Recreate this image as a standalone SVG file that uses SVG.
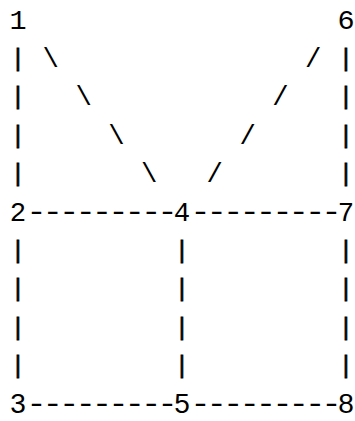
<svg xmlns="http://www.w3.org/2000/svg" width="355" height="421" viewBox="0 0 355 421">
<style>
  text { font-family: "Liberation Mono", "DejaVu Sans Mono", monospace; font-size: 27.33px; fill: #000; text-anchor: middle; }
  text.n { font-size: 28.5px; }
  text.sans { font-family: "Liberation Sans", Arial, sans-serif; font-size: 28px; }
  text.bar { font-size: 23px; stroke: #000; stroke-width: 0.8px; }
  text.dash { letter-spacing: -3.28px; text-anchor: start; }
</style>
<rect width="355" height="421" fill="#fff"/>
<g id="connectors">
  <!-- rows 1-4 -->
  <text class="bar" x="18" y="65.9">|</text><text x="50.8" y="66.8">\</text><text x="313.2" y="66.8">/</text><text class="bar" x="346" y="65.9">|</text>
  <text class="bar" x="18" y="104.3">|</text><text x="83.6" y="105.2">\</text><text x="280.4" y="105.2">/</text><text class="bar" x="346" y="104.3">|</text>
  <text class="bar" x="18" y="142.7">|</text><text x="116.4" y="143.6">\</text><text x="247.6" y="143.6">/</text><text class="bar" x="346" y="142.7">|</text>
  <text class="bar" x="18" y="181.1">|</text><text x="149.2" y="182">\</text><text x="214.8" y="182">/</text><text class="bar" x="346" y="181.1">|</text>
  <!-- row 5 -->
  <text class="dash" transform="translate(26.2,219.5) scale(1.25,1)">---------</text>
  <text class="dash" transform="translate(190.2,219.5) scale(1.25,1)">---------</text>
  <!-- rows 6-9 -->
  <text class="bar" x="18" y="257.9">|</text><text class="bar" x="182" y="257.9">|</text><text class="bar" x="346" y="257.9">|</text>
  <text class="bar" x="18" y="296.3">|</text><text class="bar" x="182" y="296.3">|</text><text class="bar" x="346" y="296.3">|</text>
  <text class="bar" x="18" y="334.7">|</text><text class="bar" x="182" y="334.7">|</text><text class="bar" x="346" y="334.7">|</text>
  <text class="bar" x="18" y="373.1">|</text><text class="bar" x="182" y="373.1">|</text><text class="bar" x="346" y="373.1">|</text>
  <!-- row 10 -->
  <text class="dash" transform="translate(26.2,411.5) scale(1.25,1)">---------</text>
  <text class="dash" transform="translate(190.2,411.5) scale(1.25,1)">---------</text>
</g>
<g id="node1"><text class="n" x="18" y="28.5">1</text></g>
<g id="node6"><text class="n" x="346" y="28.5">6</text></g>
<g id="node2"><text x="18" y="220.5">2</text></g>
<g id="node4"><text x="182" y="220.5">4</text></g>
<g id="node7"><text x="346" y="220.5">7</text></g>
<g id="node3"><text class="sans" x="18" y="413">3</text></g>
<g id="node5"><text class="sans" x="182" y="413">5</text></g>
<g id="node8"><text class="sans" x="346" y="413">8</text></g>
</svg>
